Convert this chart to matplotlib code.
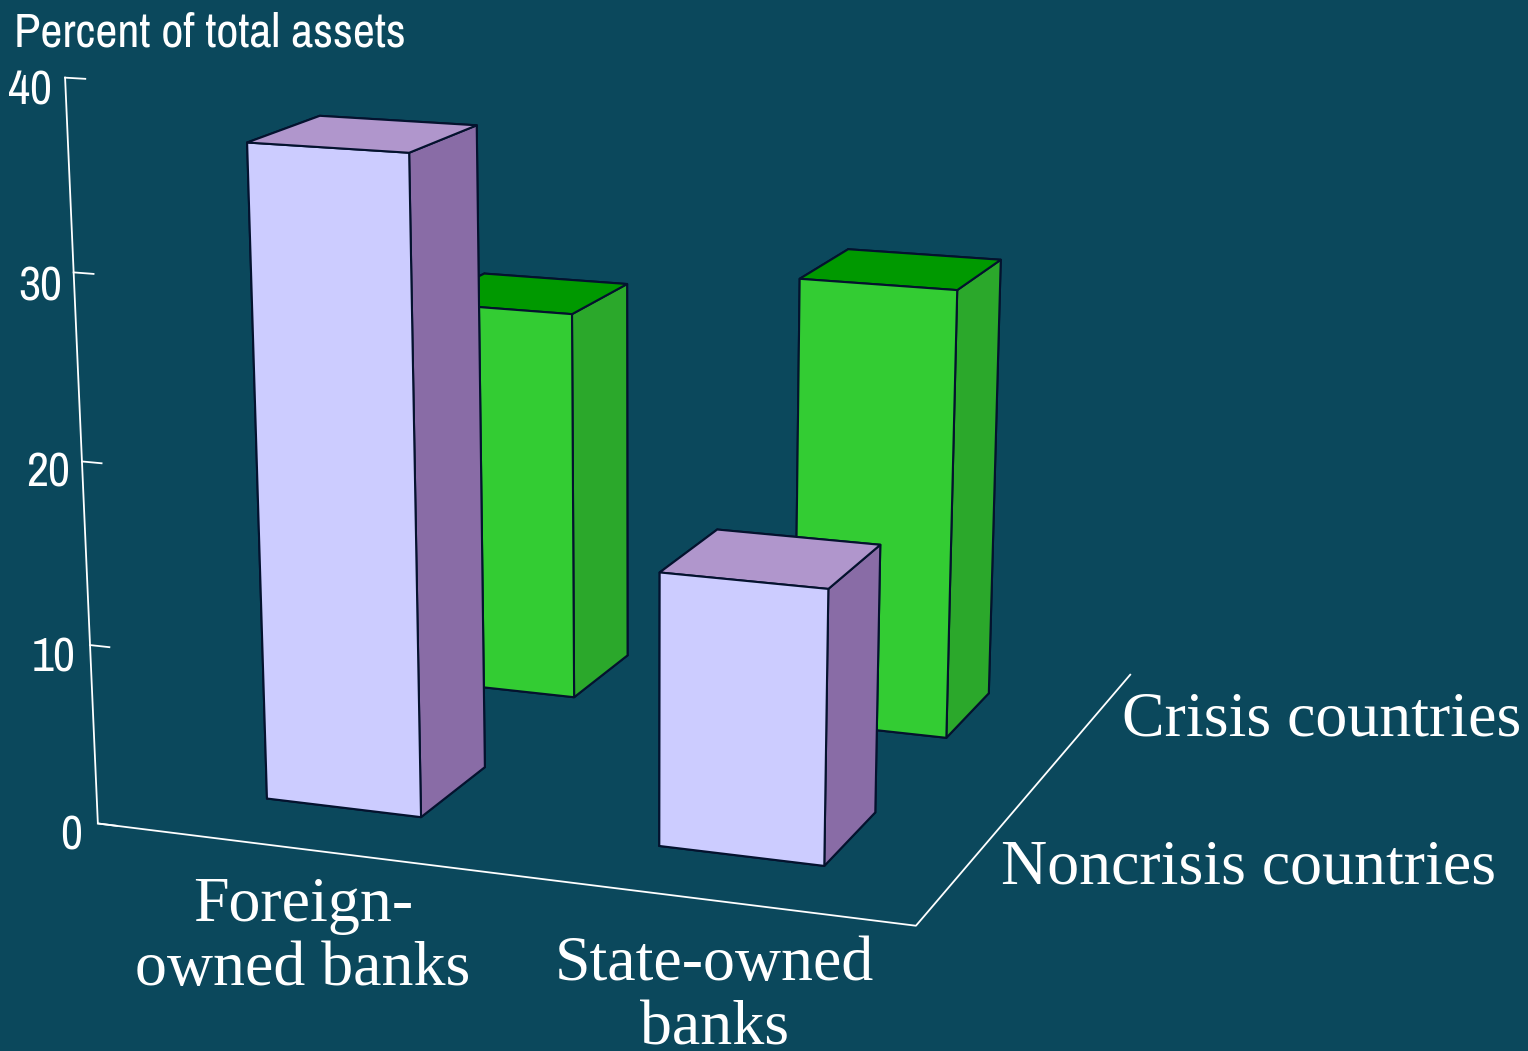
import matplotlib
matplotlib.use('Agg')
import matplotlib.pyplot as plt

W, H = 1528, 1051
bg = '#0b485c'
edge = '#04122e'

categories = ['Foreign-\nowned banks', 'State-owned\nbanks']
series = ['Noncrisis countries', 'Crisis countries']
noncrisis = [36, 15]
crisis = [23, 26]
tick_labels = ['0', '10', '20', '30', '40']
tick_values = [0, 10, 20, 30, 40]

# bar footprints on the floor, in floor units 0..1
x_left = [0.148, 0.647]
x_width = 0.2
y_front = [0.151, 0.657]
y_depth = 0.2

# face order for bar3d: bottom, top, front, back, left, right
purple = ['#ccccff', '#b096cc', '#ccccff', '#ccccff', '#ccccff', '#896ca6']
green = ['#33cc33', '#009900', '#33cc33', '#33cc33', '#33cc33', '#2ba82b']

fig = plt.figure(figsize=(W / 100, H / 100), dpi=100, facecolor=bg)
L = 1745
left, bottom = -253, -590
ax = fig.add_axes([left / W, bottom / H, L / W, L / H], projection='3d')
ax.set_axis_off()
ax.patch.set_alpha(0)
ax.computed_zorder = False
ax.set_xlim(0, 1, view_margin=0)
ax.set_ylim(0, 1, view_margin=0)
ax.set_zlim(-40, 40, view_margin=0)
ax.set_box_aspect((1, 1, 1.75), zoom=1.005)
ax.set_proj_type('persp', focal_length=0.43)
ax.view_init(elev=18, azim=-70)

# floor outline and the value axis
ax.plot([0, 0, 1, 1], [0, 0, 0, 1], [40, 0, 0, 0], color='white', lw=1.3, zorder=1, clip_on=False)
for t in tick_values:
    ax.plot([0, 0.025], [0, 0], [t, t], color='white', lw=1.3, zorder=1, clip_on=False)

# crisis row sits behind, noncrisis row in front
for i in range(2):
    ax.bar3d(x_left[i], y_front[1], 0, x_width, y_depth, crisis[i], color=green,
             shade=False, edgecolor=edge, linewidth=1.5, zorder=2 + i)
for i in range(2):
    ax.bar3d(x_left[i], y_front[0], 0, x_width, y_depth, noncrisis[i], color=purple,
             shade=False, edgecolor=edge, linewidth=1.5, zorder=4 + i)


def px_text(x, y, s, **kw):
    fig.text(x / W, 1 - y / H, s, color='white', **kw)


sans = ['Archivo Narrow', 'Roboto Condensed', 'Liberation Sans']
px_text(14, 33, 'Percent of total assets', family=sans, fontsize=34.8, va='center', ha='left')
tick_x = [82, 76, 70, 62, 52]
tick_y = [836, 658, 473, 287, 91]
for s, tx, ty in zip(tick_labels, tick_x, tick_y):
    px_text(tx, ty, s, family=sans, fontsize=34.8, va='center', ha='right')

serif = 'Liberation Serif'
px_text(303, 938, categories[0], family=serif, fontsize=46, ha='center', va='center', linespacing=1.15)
px_text(714, 997, categories[1], family=serif, fontsize=46, ha='center', va='center', linespacing=1.15)
px_text(1122, 720, series[1], family=serif, fontsize=46, ha='left', va='center')
px_text(1001, 869, series[0], family=serif, fontsize=46, ha='left', va='center')

fig.savefig('out.png', dpi=100, facecolor=bg)
